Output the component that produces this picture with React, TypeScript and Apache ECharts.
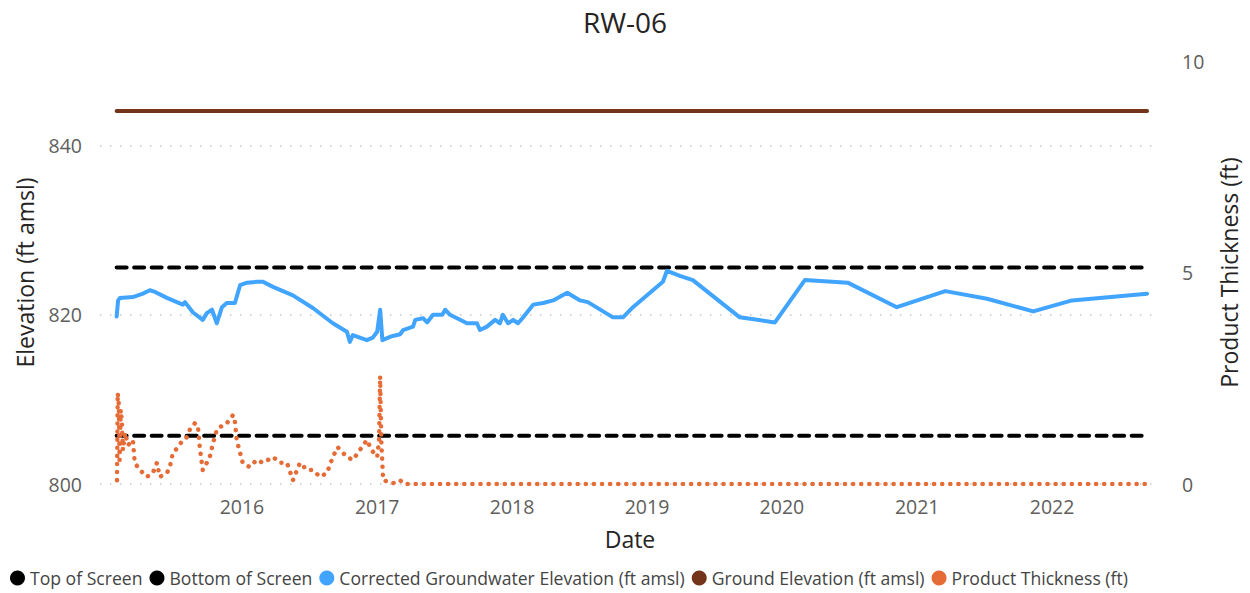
import React, { useEffect, useRef } from "react";
import * as echarts from "echarts";

const title = "RW-06";
const startDate = "2015-01-27";
const endDate = "2022-09-15";
const axisMin = "2014-12-13";
const axisMax = "2022-10-20";
const firstYearLabel = 2016;

const topOfScreen = 825.6;
const bottomOfScreen = 805.7;
const groundElevation = 844.1;

const gwDates = [
  "2015-01-27", "2015-01-31", "2015-02-05", "2015-03-12", "2015-04-08", "2015-04-27", "2015-05-11",
  "2015-06-12", "2015-07-25", "2015-07-31", "2015-08-21", "2015-09-17", "2015-09-28", "2015-10-12",
  "2015-10-25", "2015-11-08", "2015-11-21", "2015-12-13", "2015-12-27", "2016-01-15", "2016-02-11",
  "2016-02-27", "2016-03-25", "2016-05-18", "2016-07-11", "2016-09-03", "2016-10-11", "2016-10-19",
  "2016-10-27", "2016-12-04", "2016-12-20", "2017-01-01", "2017-01-09", "2017-01-15", "2017-02-05",
  "2017-02-13", "2017-03-04", "2017-03-12", "2017-04-08", "2017-04-14", "2017-05-05", "2017-05-16",
  "2017-06-01", "2017-06-26", "2017-07-04", "2017-07-17", "2017-09-01", "2017-09-28", "2017-10-06",
  "2017-10-25", "2017-11-16", "2017-11-29", "2017-12-07", "2017-12-21", "2018-01-04", "2018-01-17",
  "2018-01-31", "2018-02-27", "2018-03-26", "2018-04-22", "2018-05-30", "2018-07-04", "2018-07-25",
  "2018-10-01", "2018-10-28", "2018-11-24", "2019-02-13", "2019-02-24", "2019-03-31", "2019-05-05",
  "2019-09-09", "2019-12-13", "2020-03-03", "2020-06-27", "2020-11-07", "2021-03-18", "2021-07-09",
  "2021-11-11", "2022-02-24", "2022-09-15",
];
const gwValues = [
  819.8, 821.7, 822.0, 822.1, 822.5, 822.9, 822.7,
  822.0, 821.2, 821.5, 820.3, 819.4, 820.2, 820.6,
  819.0, 820.9, 821.4, 821.4, 823.5, 823.8, 823.9,
  823.9, 823.3, 822.3, 820.8, 819.0, 818.0, 816.8,
  817.6, 817.0, 817.3, 818.0, 820.6, 817.0, 817.4,
  817.5, 817.7, 818.2, 818.6, 819.4, 819.6, 819.1,
  820.0, 820.0, 820.6, 820.0, 819.0, 819.0, 818.2,
  818.6, 819.4, 819.0, 820.0, 819.0, 819.4, 819.0,
  819.7, 821.2, 821.4, 821.7, 822.6, 821.7, 821.5,
  819.7, 819.7, 820.9, 823.9, 825.2, 824.6, 824.1,
  819.7, 819.1, 824.1, 823.8, 820.9, 822.8, 821.9,
  820.4, 821.7, 822.5,
];

const ptDates = [
  "2015-01-28", "2015-01-30", "2015-02-02", "2015-02-04", "2015-02-07", "2015-02-10", "2015-02-13",
  "2015-02-19", "2015-02-27", "2015-03-12", "2015-03-17", "2015-03-31", "2015-04-19", "2015-05-05",
  "2015-05-16", "2015-05-24", "2015-06-12", "2015-06-20", "2015-06-28", "2015-07-12", "2015-07-25",
  "2015-08-05", "2015-08-13", "2015-08-27", "2015-09-04", "2015-09-09", "2015-09-17", "2015-09-28",
  "2015-10-06", "2015-10-15", "2015-10-25", "2015-11-02", "2015-11-16", "2015-11-24", "2015-12-08",
  "2015-12-13", "2015-12-18", "2016-01-03", "2016-01-22", "2016-02-10", "2016-02-27", "2016-03-25",
  "2016-04-13", "2016-05-02", "2016-05-18", "2016-06-06", "2016-06-25", "2016-07-11", "2016-07-30",
  "2016-08-18", "2016-09-03", "2016-09-16", "2016-10-11", "2016-10-27", "2016-11-15", "2016-12-04",
  "2016-12-17", "2017-01-01", "2017-01-06", "2017-01-09", "2017-01-12", "2017-01-17", "2017-02-13",
  "2017-03-04", "2017-03-15", "2022-09-15",
];
const ptValues = [
  0.09, 2.15, 1.87, 0.57, 1.75, 1.51, 0.80,
  1.21, 0.92, 1.04, 0.50, 0.33, 0.17, 0.26,
  0.50, 0.17, 0.26, 0.40, 0.73, 0.87, 1.04,
  1.11, 1.28, 1.44, 1.35, 0.87, 0.33, 0.50,
  0.64, 0.97, 1.28, 1.35, 1.39, 1.47, 1.63,
  1.47, 1.04, 0.50, 0.40, 0.57, 0.50, 0.64,
  0.50, 0.50, 0.09, 0.50, 0.33, 0.33, 0.17,
  0.26, 0.64, 0.87, 0.64, 0.57, 0.80, 1.04,
  0.80, 0.64, 1.04, 2.55, 1.04, 0.09, 0.02,
  0.09, 0.0, 0.0,
];

const ts = (d: string) => {
  const [y, m, day] = d.split("-").map(Number);
  return Date.UTC(y, m - 1, day);
};

const FONT = "'Open Sans', 'Noto Sans', sans-serif";
const LABEL = "#605E5C";
const DARK = "#252423";

export default function App() {
  const ref = useRef<HTMLDivElement>(null);
  useEffect(() => {
    if (!ref.current) return;
    const chart = echarts.init(ref.current, null, { renderer: "svg" });
    const flat = (v: number) => [[ts(startDate), v], [ts(endDate), v]];
    const option: any = {
      animation: false,
      backgroundColor: "#ffffff",
      textStyle: { fontFamily: FONT },
      title: {
        text: title,
        left: "center",
        top: 3,
        textStyle: { fontFamily: FONT, fontSize: 28, fontWeight: "normal", color: DARK },
      },
      legend: {
        left: 5,
        top: 564,
        icon: "circle",
        itemWidth: 15,
        itemHeight: 15,
        itemGap: 7,
        textStyle: { fontFamily: FONT, fontSize: 17.6, color: "#444444" },
        data: [
          "Top of Screen",
          "Bottom of Screen",
          "Corrected Groundwater Elevation (ft amsl)",
          "Ground Elevation (ft amsl)",
          "Product Thickness (ft)",
        ],
      },
      grid: { left: 100, right: 90, top: 61, bottom: 109 },
      xAxis: {
        type: "time",
        min: ts(axisMin),
        max: ts(axisMax),
        minInterval: 365 * 24 * 3600 * 1000,
        name: "Date",
        nameLocation: "middle",
        nameGap: 43,
        nameTextStyle: { fontFamily: FONT, fontSize: 23, color: DARK },
        axisLine: { show: false },
        axisTick: { show: false },
        splitLine: { show: false },
        axisLabel: {
          formatter: (v: number) => {
            const d = new Date(v);
            if (d.getUTCMonth() === 0 && d.getUTCDate() === 1 && d.getUTCFullYear() >= firstYearLabel) {
              return String(d.getUTCFullYear());
            }
            return "";
          },
          showMinLabel: false,
          showMaxLabel: false,
          fontFamily: FONT,
          fontSize: 19.5,
          color: LABEL,
          margin: 12,
        },
      },
      yAxis: [
        {
          type: "value",
          min: 800,
          max: 850,
          interval: 20,
          name: "Elevation (ft amsl)",
          nameLocation: "middle",
          nameGap: 64,
          nameTextStyle: { fontFamily: FONT, fontSize: 23, color: DARK },
          axisLine: { show: false, lineStyle: { color: LABEL } },
          axisTick: { show: false },
          axisLabel: {
            showMaxLabel: false,
            fontFamily: FONT,
            fontSize: 19.5,
            color: LABEL,
            margin: 18,
          },
          splitLine: {
            show: true,
            showMaxLine: false,
            lineStyle: { color: "#C8C6C4", width: 1.5, type: [1.5, 8.5] },
          },
        },
        {
          type: "value",
          min: 0,
          max: 10,
          interval: 5,
          position: "right",
          name: "Product Thickness (ft)",
          nameLocation: "middle",
          nameGap: 57,
          nameTextStyle: { fontFamily: FONT, fontSize: 23, color: DARK },
          axisLine: { show: false, lineStyle: { color: LABEL } },
          axisTick: { show: false },
          axisLabel: {
            fontFamily: FONT,
            fontSize: 19.5,
            color: LABEL,
            margin: 22,
          },
          splitLine: { show: false },
        },
      ],
      series: [
        {
          name: "Ground Elevation (ft amsl)",
          type: "line",
          yAxisIndex: 0,
          data: flat(groundElevation),
          symbol: "none",
          color: "#74341C",
          lineStyle: { color: "#74341C", width: 4, cap: "round" },
        },
        {
          name: "Top of Screen",
          type: "line",
          yAxisIndex: 0,
          data: flat(topOfScreen),
          symbol: "none",
          color: "#000000",
          lineStyle: { color: "#000000", width: 4, type: [10, 7.5], cap: "round" },
        },
        {
          name: "Bottom of Screen",
          type: "line",
          yAxisIndex: 0,
          data: flat(bottomOfScreen),
          symbol: "none",
          color: "#000000",
          lineStyle: { color: "#000000", width: 4, type: [10, 7.5], cap: "round" },
        },
        {
          name: "Corrected Groundwater Elevation (ft amsl)",
          type: "line",
          yAxisIndex: 0,
          data: gwDates.map((d, i) => [ts(d), gwValues[i]]),
          symbol: "none",
          color: "#41A4FF",
          lineStyle: { color: "#41A4FF", width: 4, cap: "round", join: "round" },
        },
        {
          name: "Product Thickness (ft)",
          type: "line",
          yAxisIndex: 1,
          data: ptDates.map((d, i) => [ts(d), ptValues[i]]),
          symbol: "none",
          color: "#E66C37",
          lineStyle: { color: "#E66C37", width: 4.5, type: [0.1, 8], cap: "round", join: "round" },
        },
      ],
    };
    chart.setOption(option);
    return () => chart.dispose();
  }, []);
  return <div ref={ref} style={{ width: 1250, height: 593, position: "absolute", left: 0, top: 0 }} />;
}
